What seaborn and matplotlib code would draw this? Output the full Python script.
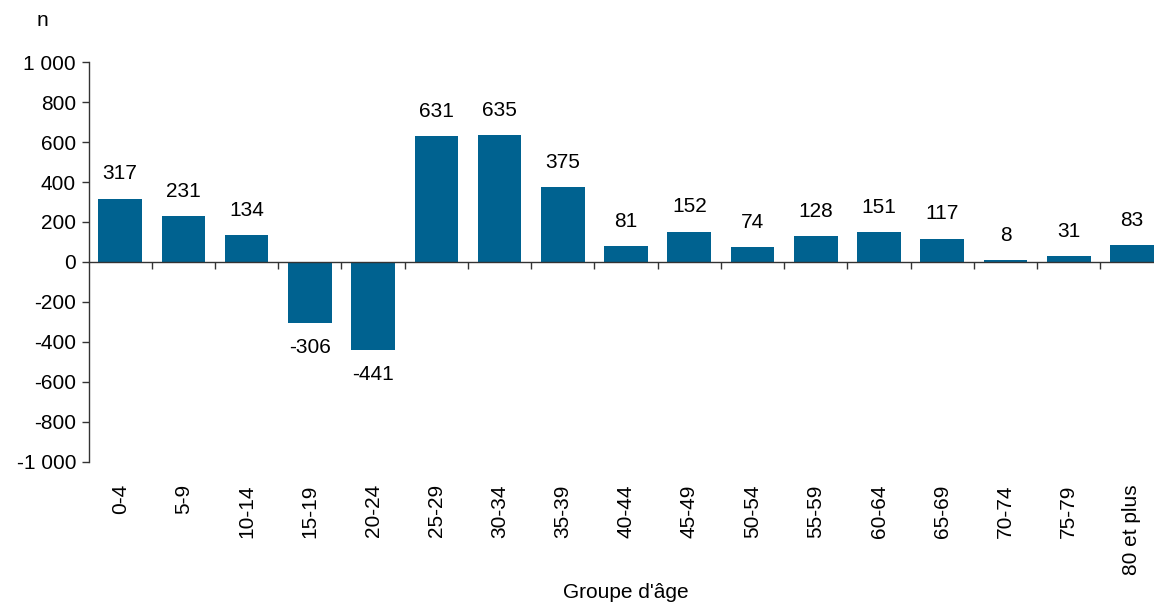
import numpy as np
import pandas as pd
import seaborn as sns
import matplotlib.pyplot as plt
from matplotlib.ticker import FuncFormatter

# data
groupes = ["0-4", "5-9", "10-14", "15-19", "20-24", "25-29", "30-34", "35-39",
           "40-44", "45-49", "50-54", "55-59", "60-64", "65-69", "70-74",
           "75-79", "80 et plus"]
valeurs = [317, 231, 134, -306, -441, 631, 635, 375, 81, 152, 74, 128, 151,
           117, 8, 31, 83]
yticks = [-1000, -800, -600, -400, -200, 0, 200, 400, 600, 800, 1000]

df = pd.DataFrame({"groupe": groupes, "n": valeurs})

sns.set_style("ticks")
plt.rcParams['font.family'] = ['Liberation Sans', 'DejaVu Sans']
plt.rcParams['text.color'] = 'black'
plt.rcParams['xtick.color'] = 'black'
plt.rcParams['ytick.color'] = 'black'

fig = plt.figure(figsize=(11.54, 6.05), dpi=100)
ax = fig.add_axes([0.0767, 0.2364, 1.0083 - 0.0767, 0.8975 - 0.2364])

sns.barplot(data=df, x="groupe", y="n", color="#006290", width=0.69,
            saturation=1, linewidth=0, edgecolor="none", ax=ax)

ax.set_ylim(-1000, 1000)
ax.set_xlim(-0.5, len(groupes) - 0.5)
ax.set_yticks(yticks)
ax.yaxis.set_major_formatter(FuncFormatter(lambda v, p: f"{int(v):,}".replace(",", " ")))
ax.tick_params(axis="y", labelsize=15, length=5, width=1, color="#333333", pad=4)
ax.tick_params(axis="x", labelsize=15, length=0, pad=16, labelrotation=90)
for lab in ax.get_xticklabels():
    lab.set_verticalalignment("top")

for s in ["top", "right", "bottom"]:
    ax.spines[s].set_visible(False)
ax.spines["left"].set_color("#333333")
ax.spines["left"].set_linewidth(1)

# zero line with ticks between the groups
sec = ax.secondary_xaxis(0.5)
sec.set_alignment("bottom")
sec.set_zorder(5)
sec.set_xticks(np.arange(0.5, len(groupes) - 1, 1.0))
sec.set_xticklabels([])
sec.tick_params(axis="x", direction="out", length=5, width=1, color="#333333")
sec.spines["bottom"].set_color("#333333")
sec.spines["bottom"].set_linewidth(1)

# value labels
for i, v in enumerate(valeurs):
    off = 11 if v >= 0 else -11
    ax.annotate(str(v), (i, v), xytext=(0, off), textcoords="offset points",
                ha="center", va="bottom" if v >= 0 else "top", fontsize=15)

ax.set_ylabel("")
ax.set_xlabel("")
fig.text(42 / 1154, 1 - 20 / 605, "n", ha="center", va="center", fontsize=15)
fig.text(626 / 1154, 1 - 593 / 605, "Groupe d'âge", ha="center", va="center", fontsize=15)

fig.savefig("out.png", dpi=100)
